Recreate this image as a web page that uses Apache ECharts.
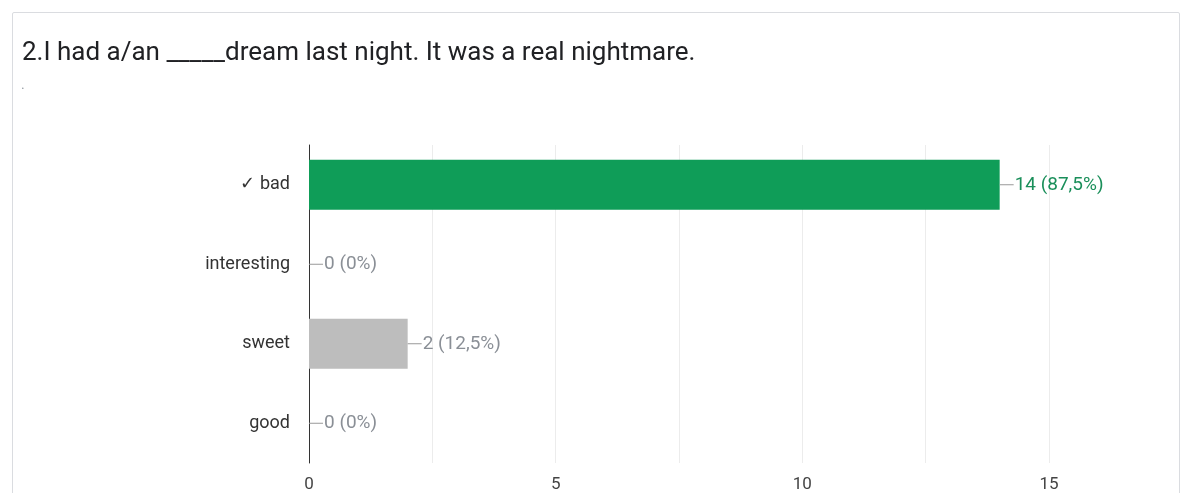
<!DOCTYPE html>
<html>
<head>
<meta charset="utf-8">
<script src="https://cdn.jsdelivr.net/npm/echarts@6/dist/echarts.min.js"></script>
<style>
    html, body {
        margin: 0;
        padding: 0;
        background: #fff;
    }
    .card {
        position: absolute;
        left: 12px;
        top: 12px;
        width: 1168px;
        height: 500px;
        border: 1px solid #dadce0;
        border-radius: 2px;
        box-sizing: border-box;
    }
    #chart {
        position: absolute;
        left: 0;
        top: 0;
        width: 1184px;
        height: 493px;
    }
</style>
</head>
<body>
<div class="card"></div>
<div id="chart"></div>
<script>
const titleText = '2.I had a/an _____dream last night. It was a real nightmare.'
const categories = ['✓ bad', 'interesting', 'sweet', 'good']
const counts = [14, 0, 2, 0]
const correct = [true, false, false, false]
const xTicks = [0, 5, 10, 15]

const total = counts.reduce((a, b) => a + b, 0)

const chart = echarts.init(document.getElementById('chart'))

const fmtPct = (v) => {
    const p = Math.round(v / total * 1000) / 10
    return String(p).replace('.', ',') + '%'
}

chart.setOption({
    textStyle: { fontFamily: 'Roboto, Arial, sans-serif' },
    title: [
        {
            text: titleText,
            left: 17,
            top: 35,
            textStyle: { fontSize: 26, fontWeight: 'normal', color: '#202124' }
        },
        {
            text: '.',
            left: 16,
            top: 73,
            textStyle: { fontSize: 14, fontWeight: 'normal', color: '#9aa0a6' }
        }
    ],
    grid: { left: 309, right: 135, top: 145, bottom: 30 },
    xAxis: {
        type: 'value',
        min: 0,
        max: 15,
        interval: 2.5,
        axisLine: { show: false },
        axisTick: { show: false },
        splitLine: { lineStyle: { color: '#ececec', width: 1 } },
        axisLabel: {
            color: '#444',
            fontSize: 17,
            margin: 13,
            formatter: (v) => xTicks.indexOf(v) >= 0 ? String(v) : ''
        }
    },
    yAxis: {
        type: 'category',
        inverse: true,
        data: categories,
        axisLine: { lineStyle: { color: '#333', width: 1 } },
        axisTick: { show: false },
        axisLabel: { color: '#333', fontSize: 18, margin: 19 }
    },
    series: [{
        type: 'bar',
        barWidth: 50,
        data: counts.map((v, i) => ({
            value: v,
            itemStyle: { color: correct[i] ? '#0f9d58' : '#bdbdbd' },
            label: {
                rich: {
                    ln: { width: 14, height: 1, backgroundColor: '#999' },
                    t: { color: correct[i] ? '#1a8f5a' : '#8a8f96', fontSize: 19, padding: [0, 0, 0, 1] }
                }
            }
        })),
        label: {
            show: true,
            position: 'right',
            distance: 0,
            formatter: (p) => '{ln|}{t|' + p.value + ' (' + fmtPct(p.value) + ')}'
        }
    }]
})
</script>
</body>
</html>
